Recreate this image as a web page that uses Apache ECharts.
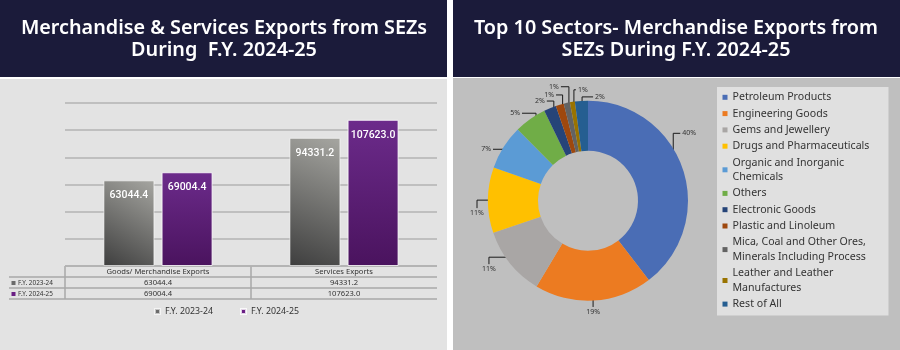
<!DOCTYPE html>
<html><head><meta charset="utf-8">
<script src="https://cdn.jsdelivr.net/npm/echarts@6/dist/echarts.min.js"></script>
<style>html,body{margin:0;padding:0;background:#fff}#c{width:900px;height:350px}</style>
</head><body><div id="c"></div>
<script>
// ---------- data ----------
const barCategories = ['Goods/ Merchandise Exports', 'Services Exports'];
const barSeriesNames = ['F.Y. 2023-24', 'F.Y. 2024-25'];
const fy2023_24 = [63044.4, 94331.2];
const fy2024_25 = [69004.4, 107623.0];
const barAxisMax = 120000;
const barAxisInterval = 20000;

const sectorNames = [
  'Petroleum Products', 'Engineering Goods', 'Gems and Jewellery',
  'Drugs and Pharmaceuticals', 'Organic and Inorganic Chemicals', 'Others',
  'Electronic Goods', 'Plastic and Linoleum',
  'Mica, Coal and Other Ores, Minerals Including Process',
  'Leather and Leather Manufactures', 'Rest of All'
];
const sectorShares = [39.6, 19.0, 11.2, 10.6, 7.2, 5.2, 2.0, 1.3, 1.0, 0.8, 2.1];

const leftTitle = 'Merchandise & Services Exports from SEZs\nDuring  F.Y. 2024-25';
const rightTitle = 'Top 10 Sectors- Merchandise Exports from\nSEZs During F.Y. 2024-25';

// ---------- styles / layout ----------
const sectorColors = ['#4a6db5', '#ec7b21', '#a9a6a5', '#ffc000', '#5b9bd5', '#70ad47',
  '#264478', '#9e480e', '#636363', '#997300', '#255e91'];
const headerColor = '#1b1b3a';
const titleFont = "'Noto Sans', 'Open Sans', sans-serif";
const smallFont = "'Noto Sans', 'Open Sans', sans-serif";
const barLabelFont = "Roboto, 'Noto Sans', sans-serif";
const legendMarkerColors = ['#6b6b6b', '#6a1f84'];

const G = { left: 65, right: 437, top: 103, bottom: 266, rowH: 11, labelLeft: 9 };
const PIE = { cx: 588, cy: 200.7, r0: 50, r: 100, startFrac: 0.9 };
// Excel-style elbow leaders: [first leg axis, first leg length, second leg length]
const pieLeaders = [
  ['v', -38.5, 7], ['v', 16.4, 0], ['h', -29, 7], ['h', -21, 8], ['v', -3.2, -19],
  ['v', -14, -14], ['v', -16.4, -7], ['v', -19.4, -6.6], ['v', -26, -8], ['v', -22, 2], ['v', -14, 11]
];
const W = 900, H = 350;

const chart = echarts.init(document.getElementById('c'), null, { renderer: 'canvas' });

const greyGrad = new echarts.graphic.LinearGradient(0, 1, 1, 0, [
  { offset: 0, color: '#3e3e3e' }, { offset: 1, color: '#a6a6a1' }]);
const purpleGrad = new echarts.graphic.LinearGradient(0, 0, 0, 1, [
  { offset: 0, color: '#6c2b8b' }, { offset: 1, color: '#4a135e' }]);

const barLabel = {
  show: true, position: 'insideTop', distance: 10, color: '#fff',
  fontFamily: barLabelFont, fontSize: 10.5, fontWeight: 500,
  formatter: p => p.value.toFixed(1)
};

// ---------- table graphic built from data ----------
function tableGraphics() {
  const els = [];
  const lineStyle = { stroke: '#a9a9a9', lineWidth: 1.5 };
  const catW = (G.right - G.left) / barCategories.length;
  const rows = [fy2023_24, fy2024_25];
  els.push({ type: 'line', shape: { x1: G.left, y1: G.bottom, x2: G.right, y2: G.bottom }, style: lineStyle });
  for (let r = 1; r <= rows.length + 1; r++) {
    const y = G.bottom + r * G.rowH;
    els.push({ type: 'line', shape: { x1: G.labelLeft, y1: y, x2: G.right, y2: y }, style: lineStyle });
  }
  for (let c = 0; c < barCategories.length; c++) {
    const x = G.left + c * catW;
    els.push({ type: 'line', shape: { x1: x, y1: G.bottom, x2: x, y2: G.bottom + (rows.length + 1) * G.rowH }, style: lineStyle });
  }
  barCategories.forEach((name, c) => {
    els.push({ type: 'text', x: G.left + (c + 0.5) * catW, y: G.bottom + G.rowH / 2 + 0.5,
      style: { text: name, fill: '#333', font: '7.6px ' + smallFont, align: 'center', verticalAlign: 'middle' } });
  });
  rows.forEach((vals, r) => {
    const yc = G.bottom + (r + 1.5) * G.rowH + 0.5;
    els.push({ type: 'rect', shape: { x: G.labelLeft + 2.5, y: yc - 2, width: 4, height: 4 }, style: { fill: legendMarkerColors[r] } });
    els.push({ type: 'text', x: G.labelLeft + 9, y: yc,
      style: { text: barSeriesNames[r], fill: '#333', font: '6.4px ' + smallFont, align: 'left', verticalAlign: 'middle' } });
    vals.forEach((v, c) => {
      els.push({ type: 'text', x: G.left + (c + 0.5) * catW, y: yc,
        style: { text: v.toFixed(1), fill: '#333', font: '7.6px ' + smallFont, align: 'center', verticalAlign: 'middle' } });
    });
  });
  return els;
}

// ---------- pie label leaders from slice mid-angles ----------
const shareTotal = sectorShares.reduce((a, b) => a + b, 0);
const midAngles = [];
(function () {
  let acc = 0;
  sectorShares.forEach(v => { midAngles.push((acc + v / 2) / shareTotal * 2 * Math.PI); acc += v; });
})();
function pieLabelLayout(params) {
  const i = params.dataIndex;
  const a = midAngles[i];
  const rr = PIE.r * PIE.startFrac;
  const s = [PIE.cx + rr * Math.sin(a), PIE.cy - rr * Math.cos(a)];
  const L = pieLeaders[i];
  let p1, p2;
  if (L[0] === 'v') { p1 = [s[0], s[1] + L[1]]; p2 = [p1[0] + L[2], p1[1]]; }
  else { p1 = [s[0] + L[1], s[1]]; p2 = [p1[0], p1[1] + L[2]]; }
  const seg = (p2[0] !== p1[0] || p2[1] !== p1[1]) ? [p2[0] - p1[0], p2[1] - p1[1]] : [p1[0] - s[0], p1[1] - s[1]];
  const out = { labelLinePoints: [s, p1, p2] };
  if (Math.abs(seg[0]) > Math.abs(seg[1])) {
    out.x = p2[0] + (seg[0] > 0 ? 2 : -2); out.y = p2[1];
    out.align = seg[0] > 0 ? 'left' : 'right'; out.verticalAlign = 'middle';
  } else {
    out.x = p2[0]; out.y = p2[1] + (seg[1] > 0 ? 1.5 : -1.5);
    out.align = 'center'; out.verticalAlign = seg[1] > 0 ? 'top' : 'bottom';
  }
  return out;
}

const option = {
  animation: false,
  backgroundColor: '#ffffff',
  title: [
    { text: leftTitle, left: 224, top: 18, textAlign: 'center', padding: 0,
      textStyle: { color: '#fff', fontFamily: titleFont, fontWeight: 600, fontSize: 19.8, lineHeight: 21.5 } },
    { text: rightTitle, left: 676, top: 18, textAlign: 'center', padding: 0,
      textStyle: { color: '#fff', fontFamily: titleFont, fontWeight: 600, fontSize: 19.8, lineHeight: 21.5 } }
  ],
  graphic: [
    { type: 'group', z: -10, silent: true, children: [
      { type: 'rect', shape: { x: 0, y: 0, width: 447, height: 77 }, style: { fill: headerColor } },
      { type: 'rect', shape: { x: 453, y: 0, width: 447, height: 77 }, style: { fill: headerColor } },
      { type: 'rect', shape: { x: 0, y: 79, width: 447, height: 271 }, style: { fill: '#e3e3e3' } },
      { type: 'rect', shape: { x: 453, y: 78, width: 447, height: 272 }, style: { fill: '#bfbfbf' } }
    ]},
    { type: 'group', silent: true, children: tableGraphics() }
  ],
  legend: [
    { data: barSeriesNames.map((n, i) => ({ name: n, itemStyle: { color: legendMarkerColors[i] } })),
      left: 154, top: 307, padding: 0, itemWidth: 5, itemHeight: 5, itemGap: 27, icon: 'rect',
      textStyle: { color: '#333', fontFamily: smallFont, fontSize: 8.8 } },
    { data: sectorNames, orient: 'vertical', left: 717, top: 87, icon: 'rect',
      itemWidth: 5, itemHeight: 5, itemGap: 1.7,
      padding: [3, 4, 4, 5.5], backgroundColor: '#e0e0e0',
      textStyle: { color: '#333', fontFamily: smallFont, fontSize: 10.6, lineHeight: 14.6, width: 152, overflow: 'break' } }
  ],
  grid: { left: G.left, right: W - G.right, top: G.top, bottom: H - G.bottom },
  xAxis: { type: 'category', data: barCategories, axisLine: { show: false }, axisTick: { show: false }, axisLabel: { show: false } },
  yAxis: { type: 'value', min: 0, max: barAxisMax, interval: barAxisInterval, axisLabel: { show: false },
    axisLine: { show: false }, axisTick: { show: false },
    splitLine: { lineStyle: { color: '#b3b3b3', width: 1.6 } } },
  series: [
    { name: barSeriesNames[0], type: 'bar', data: fy2023_24, barWidth: 51, barGap: '14%',
      itemStyle: { color: greyGrad, borderColor: 'rgba(255,255,255,0.6)', borderWidth: 1 }, label: barLabel },
    { name: barSeriesNames[1], type: 'bar', data: fy2024_25, barWidth: 51,
      itemStyle: { color: purpleGrad, borderColor: 'rgba(255,255,255,0.8)', borderWidth: 1 }, label: barLabel },
    { name: 'Sectors', type: 'pie', center: [PIE.cx, PIE.cy], radius: [PIE.r0, PIE.r], startAngle: 90, clockwise: true,
      data: sectorNames.map((n, i) => ({ name: n, value: sectorShares[i] })),
      color: sectorColors,
      itemStyle: { borderWidth: 0 },
      label: { show: true, position: 'outside', formatter: p => Math.round(p.percent) + '%',
        color: '#333', fontFamily: smallFont, fontSize: 7, padding: 0 },
      labelLine: { show: true, length: 6, length2: 8, lineStyle: { color: '#1a1a1a', width: 1 } },
      labelLayout: pieLabelLayout,
      emphasis: { disabled: true }
    }
  ]
};
chart.setOption(option);
</script></body></html>
